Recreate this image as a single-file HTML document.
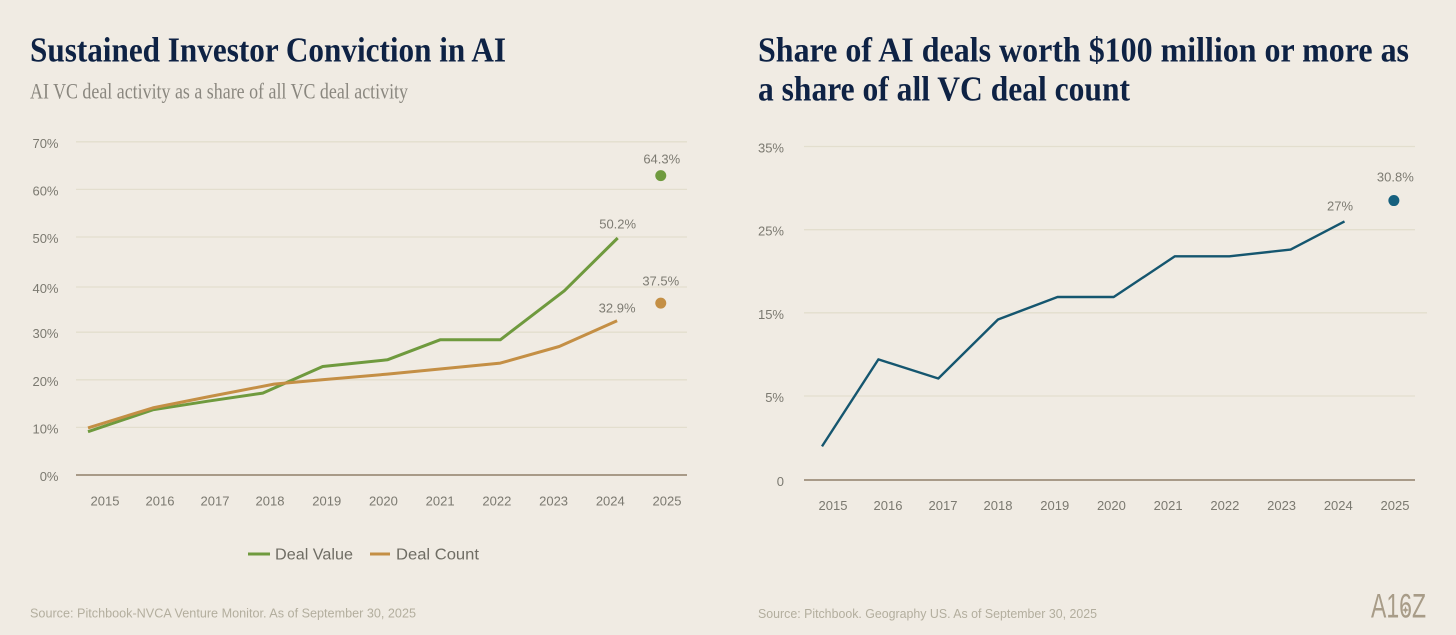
<!DOCTYPE html>
<html lang="en">
<head>
<meta charset="utf-8">
<title>AI investor conviction charts</title>
<style>
html,body{margin:0;padding:0;background:#f0ebe3;width:1456px;height:635px;overflow:hidden}
svg{display:block}
text{font-family:"Liberation Sans",sans-serif}
.title{font-family:"Liberation Serif",serif;font-weight:700;font-size:35px;fill:#0e2244}
.sub{font-family:"Liberation Serif",serif;font-size:22px;fill:#8a877f}
.tick{font-size:13px;fill:#7b7970}
.val{font-size:13px;fill:#7d7b72;text-anchor:middle}
.src{font-size:12.5px;fill:#b3ae9e}
.leg{font-size:15.5px;fill:#6f6d64}
</style>
</head>
<body>
<svg id="root" xmlns="http://www.w3.org/2000/svg" width="1456" height="635" viewBox="0 0 1456 635">
  <rect x="0" y="0" width="1456" height="635" fill="#f0ebe3"/>
  <text class="title" x="30" y="61.5" textLength="476" lengthAdjust="spacingAndGlyphs">Sustained Investor Conviction in AI</text>
  <text class="sub" x="30" y="98.7" textLength="378" lengthAdjust="spacingAndGlyphs">AI VC deal activity as a share of all VC deal activity</text>
  <text class="title" x="758" y="61.5" textLength="651" lengthAdjust="spacingAndGlyphs">Share of AI deals worth $100 million or more as</text>
  <text class="title" x="758" y="100.5" textLength="372" lengthAdjust="spacingAndGlyphs">a share of all VC deal count</text>
  <g id="leftChart"></g>
  <g id="rightChart"></g>
  <g>
    <line x1="248" x2="270" y1="554" y2="554" stroke="#6f9a3e" stroke-width="3"/>
    <text class="leg" x="275" y="559.5" textLength="78" lengthAdjust="spacingAndGlyphs">Deal Value</text>
    <line x1="370" x2="390" y1="554" y2="554" stroke="#c48f45" stroke-width="3"/>
    <text class="leg" x="396" y="559.5" textLength="83" lengthAdjust="spacingAndGlyphs">Deal Count</text>
  </g>
  <text class="src" x="30" y="617.5" textLength="386" lengthAdjust="spacingAndGlyphs">Source: Pitchbook-NVCA Venture Monitor. As of September 30, 2025</text>
  <text class="src" x="758" y="618" textLength="339" lengthAdjust="spacingAndGlyphs">Source: Pitchbook. Geography US. As of September 30, 2025</text>
  <g>
    <text x="1371" y="617.5" textLength="55" lengthAdjust="spacingAndGlyphs" style="font-family:'Liberation Sans',sans-serif;font-size:34px;fill:#a89c88">A16Z</text>
    <polygon points="1405.5,606 1406.5,609 1409.5,610 1406.5,611 1405.5,614 1404.5,611 1401.5,610 1404.5,609" fill="#a89c88"/>
  </g>
</svg>
<script>
// Shared axis categories
const yearLabels = ['2015','2016','2017','2018','2019','2020','2021','2022','2023','2024','2025'];

// Left chart data
const leftTickValues = [0, 10, 20, 30, 39.5, 50, 60, 70];
const leftTickLabels = ['0%','10%','20%','30%','40%','50%','60%','70%'];
const dealValuePeriods = [2014.69, 2015.87, 2016.87, 2017.87, 2018.93, 2020.07, 2021.0, 2022.06, 2023.19, 2024.13];
const dealValueSeries = [9.1, 13.7, 15.5, 17.2, 22.8, 24.2, 28.4, 28.4, 38.7, 49.8];
const dealCountPeriods = [2014.69, 2015.87, 2016.87, 2018.07, 2018.92, 2020.07, 2021.02, 2022.06, 2023.1, 2024.12];
const dealCountSeries = [9.9, 14.1, 16.4, 19.1, 20.0, 21.2, 22.3, 23.5, 27.0, 32.4];
const dealValue2025Period = [2024.89];
const dealValue2025 = [62.9];
const dealCount2025Period = [2024.89];
const dealCount2025 = [36.1];
const dealValueLabels = ['50.2%', '64.3%'];
const dealCountLabels = ['32.9%', '37.5%'];

// Right chart data
const rightTickValues = [0, 5, 15, 25, 35];
const rightTickLabels = ['0','5%','15%','25%','35%'];
const shareDealPeriods = [2014.8, 2015.825, 2016.915, 2018.0, 2019.05, 2020.04, 2021.12, 2022.08, 2023.16, 2024.11];
const shareDealSeries = [2.0, 9.4, 7.1, 14.2, 16.9, 16.9, 21.8, 21.8, 22.6, 26.0];
const shareDeal2025Period = [2024.98];
const shareDeal2025 = [28.5];
const shareDealLabels = ['27%', '30.8%'];

const NS = 'http://www.w3.org/2000/svg';
function make(parent, tag, attrs, text) {
  const node = document.createElementNS(NS, tag);
  for (const k in attrs) node.setAttribute(k, attrs[k]);
  if (text !== undefined) node.textContent = text;
  parent.appendChild(node);
  return node;
}
function piecewise(domain, range) {
  return function (v) {
    let i = 0;
    while (i < domain.length - 2 && v > domain[i + 1]) i++;
    const t = (v - domain[i]) / (domain[i + 1] - domain[i]);
    return range[i] + t * (range[i + 1] - range[i]);
  };
}
function pathFrom(xs, ys, xScale, yScale) {
  return xs.map((x, i) => (i ? 'L' : 'M') + xScale(x).toFixed(1) + ' ' + yScale(ys[i]).toFixed(1)).join(' ');
}
function drawAxes(g, prefix, ticks, labels, xScale, yScale, x0, x1, labelX, yearY) {
  ticks.forEach((t, i) => {
    const y = yScale(t);
    const isBase = t === 0;
    const wide = prefix === 'right' && t === 15;
    const line = make(g, 'line', {
      x1: x0, x2: wide ? x1 + 12 : x1, y1: y, y2: y,
      stroke: isBase ? '#a89a88' : '#e3dece',
      'stroke-width': isBase ? 2 : 1.3
    });
    
    
    const lab = make(g, 'text', { x: labelX, y: y + 6, 'text-anchor': 'end', class: 'tick' }, labels[i]);
    
    
  });
  yearLabels.forEach((yr) => {
    const lab = make(g, 'text', { x: xScale(+yr), y: yearY, 'text-anchor': 'middle', class: 'tick' }, yr);
    
    
  });
}
function drawLine(g, name, xs, ys, xScale, yScale, color, width) {
  const p = make(g, 'path', { d: pathFrom(xs, ys, xScale, yScale), fill: 'none', stroke: color, 'stroke-width': width, 'stroke-linejoin': 'round' });
  
  
}
function drawDot(g, period, value, xScale, yScale, color) {
  const c = make(g, 'circle', { cx: xScale(period), cy: yScale(value), r: 5.5, fill: color });
  
  
}
function drawValue(g, text, x, y) {
  const t = make(g, 'text', { x: x, y: y, class: 'val' }, text);
  
  
}

// Left chart
const leftG = document.getElementById('leftChart');
const leftX = piecewise([2015, 2018, 2025], [105, 270, 667]);
const leftY = piecewise([0, 70], [475, 141.8]);
drawAxes(leftG, 'left', leftTickValues, leftTickLabels, leftX, leftY, 76, 687, 58.5, 505.5);
drawLine(leftG, 'deal-value-line', dealValuePeriods, dealValueSeries, leftX, leftY, '#6f9a3e', 3);
drawLine(leftG, 'deal-count-line', dealCountPeriods, dealCountSeries, leftX, leftY, '#c48f45', 3);
drawDot(leftG, dealValue2025Period[0], dealValue2025[0], leftX, leftY, '#6f9a3e');
drawDot(leftG, dealCount2025Period[0], dealCount2025[0], leftX, leftY, '#c48f45');
drawValue(leftG, dealValueLabels[0], leftX(dealValuePeriods[9]), leftY(dealValueSeries[9]) - 9.5);
drawValue(leftG, dealValueLabels[1], leftX(dealValue2025Period[0]) + 1, leftY(dealValue2025[0]) - 12);
drawValue(leftG, dealCountLabels[0], leftX(dealCountPeriods[9]), leftY(dealCountSeries[9]) - 8.5);
drawValue(leftG, dealCountLabels[1], leftX(dealCount2025Period[0]), leftY(dealCount2025[0]) - 17.5);

// Right chart
const rightG = document.getElementById('rightChart');
const rightX = piecewise([2015, 2018, 2025], [833, 998, 1395]);
const rightY = piecewise([0, 5, 35], [480, 396, 146.5]);
drawAxes(rightG, 'right', rightTickValues, rightTickLabels, rightX, rightY, 804, 1415, 784, 510);
drawLine(rightG, 'share-of-large-deals-line', shareDealPeriods, shareDealSeries, rightX, rightY, '#15566f', 2.4);
drawDot(rightG, shareDeal2025Period[0], shareDeal2025[0], rightX, rightY, '#16607e');
drawValue(rightG, shareDealLabels[0], rightX(shareDealPeriods[9]) - 4.5, rightY(shareDealSeries[9]) - 11);
drawValue(rightG, shareDealLabels[1], rightX(shareDeal2025Period[0]) + 1.5, rightY(shareDeal2025[0]) - 19);
</script>
</body>
</html>
